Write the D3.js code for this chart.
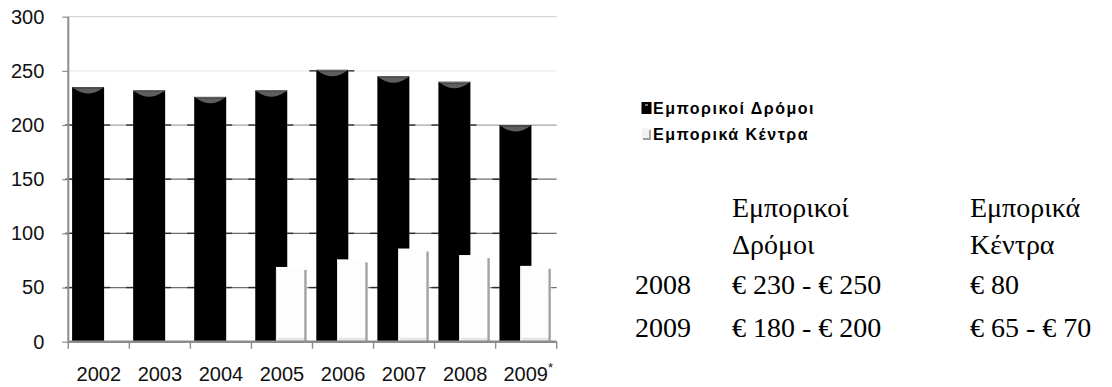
<!DOCTYPE html>
<html>
<head>
<meta charset="utf-8">
<script src="https://cdn.jsdelivr.net/npm/d3@7"></script>
<style>
  html, body { margin: 0; padding: 0; background: #fff; }
  svg { display: block; }
</style>
</head>
<body>
<svg id="chart" width="1112" height="387"></svg>
<script>
// Rents per year: shopping streets vs shopping centres
const years = ["2002", "2003", "2004", "2005", "2006", "2007", "2008", "2009"];
const streetValues = [235, 232, 226, 232, 251, 245, 240, 200];
const centreValues = [null, null, null, 69, 76, 86, 80, 70];
const yTicks = [0, 50, 100, 150, 200, 250, 300];
const seriesNames = ["Εμπορικοί Δρόμοι", "Εμπορικά Κέντρα"];

// Side table
const tableHeader = [["Εμπορικοί", "Δρόμοι"], ["Εμπορικά", "Κέντρα"]];
const tableYears = ["2008", "2009"];
const tableStreets = ["€ 230 - € 250", "€ 180 - € 200"];
const tableCentres = ["€ 80", "€ 65 - € 70"];

const svg = d3.select("#chart");
const plot = { left: 68.3, right: 556.7, top: 16.7, bottom: 341.7 };

const x = d3.scaleBand().domain(years).range([plot.left, plot.right]).padding(0);
const y = d3.scaleLinear().domain([0, 300]).range([plot.bottom, plot.top]);

const bw = x.bandwidth();
const blackOff = 3.8, blackW = 32;
const whiteOff = 24.5, whiteW = 31;

// gridlines
const gridColor = d => d === 300 ? "#d6d6d6" : d === 250 ? "#ececec" : d === 200 ? "#a4a4a4" : "#6e6e6e";
const grid = svg.append("g");
grid.selectAll("line").data(yTicks.filter(d => d > 0)).join("line")
  .attr("x1", plot.left).attr("x2", plot.right)
  .attr("y1", d => y(d)).attr("y2", d => y(d))
  .attr("stroke", gridColor)
  .attr("stroke-width", 1.2);

// dark floor shadows on gridlines beside the street bars
const shade = svg.append("g");
years.forEach((yr, i) => {
  const x0 = x(yr) + blackOff, x1 = x0 + blackW;
  yTicks.filter(t => t > 0 && t < streetValues[i]).forEach(t => {
    shade.append("line").attr("x1", x0 - 7).attr("x2", x0).attr("y1", y(t)).attr("y2", y(t))
      .attr("stroke", "#2e2e2e").attr("stroke-width", 1.4);
    shade.append("line").attr("x1", x1).attr("x2", x1 + 6).attr("y1", y(t)).attr("y2", y(t))
      .attr("stroke", "#2e2e2e").attr("stroke-width", 1.4);
  });
});

// street bars (black cylinders)
const streets = svg.append("g");
streets.selectAll("rect").data(years).join("rect")
  .attr("x", d => x(d) + blackOff)
  .attr("y", (d, i) => y(streetValues[i]))
  .attr("width", blackW)
  .attr("height", (d, i) => plot.bottom - y(streetValues[i]))
  .attr("fill", "#000");
streets.selectAll("path.cap").data(years).join("path")
  .attr("class", "cap")
  .attr("d", (d, i) => {
    const x0 = x(d) + blackOff + 2, x1 = x(d) + blackOff + blackW - 2, t = y(streetValues[i]) + 1.5;
    return `M${x0},${t} L${x1},${t} Q${(x0 + x1) / 2},${t + 10} ${x0},${t} Z`;
  })
  .attr("fill", "#5e5e5e");
streets.selectAll("line.rim").data(years).join("line")
  .attr("class", "rim")
  .attr("x1", d => x(d) + blackOff + 1).attr("x2", d => x(d) + blackOff + blackW - 1)
  .attr("y1", (d, i) => y(streetValues[i]) + 0.8).attr("y2", (d, i) => y(streetValues[i]) + 0.8)
  .attr("stroke", "#8a8a8a").attr("stroke-width", 0.8);

// centre bars (white cylinders in front)
const centreData = years.map((d, i) => ({ year: d, v: centreValues[i] })).filter(d => d.v !== null);
const centres = svg.append("g");
centres.selectAll("rect").data(centreData).join("rect")
  .attr("x", d => x(d.year) + whiteOff)
  .attr("y", d => y(d.v))
  .attr("width", whiteW)
  .attr("height", d => plot.bottom - y(d.v))
  .attr("fill", "#fdfdfd");
centres.selectAll("rect.floor").data(centreData).join("rect")
  .attr("class", "floor")
  .attr("x", d => x(d.year) + whiteOff + 2)
  .attr("y", plot.bottom - 4)
  .attr("width", whiteW - 4)
  .attr("height", 3)
  .attr("fill", "#e6e6e6");
centres.selectAll("line.left").data(centreData).join("line")
  .attr("class", "left")
  .attr("x1", d => x(d.year) + whiteOff + 0.5).attr("x2", d => x(d.year) + whiteOff + 0.5)
  .attr("y1", d => y(d.v) + 2).attr("y2", plot.bottom)
  .attr("stroke", "#e2e2e2").attr("stroke-width", 1);
centres.selectAll("line.edge").data(centreData).join("line")
  .attr("class", "edge")
  .attr("x1", d => x(d.year) + whiteOff + whiteW - 1.5).attr("x2", d => x(d.year) + whiteOff + whiteW - 1.5)
  .attr("y1", d => y(d.v) + 3).attr("y2", plot.bottom)
  .attr("stroke", "#a3a3a3").attr("stroke-width", 2.4);

// axes
const axisColor = "#8c8c8c";
const yAxis = svg.append("g").attr("transform", `translate(${plot.left},0)`)
  .call(d3.axisLeft(y).tickValues(yTicks).tickSize(6).tickPadding(18));
yAxis.select(".domain").attr("stroke", axisColor).attr("stroke-width", 2).attr("d", `M0,${plot.top}V${plot.bottom}`);
yAxis.selectAll(".tick line").attr("stroke", axisColor).attr("stroke-width", 1.2);
yAxis.selectAll(".tick text")
  .attr("font-family", "'Liberation Sans', Arial, sans-serif")
  .attr("font-size", 20).attr("fill", "#111");

const xAxis = svg.append("g").attr("transform", `translate(0,${plot.bottom})`);
xAxis.append("line").attr("x1", plot.left).attr("x2", plot.right)
  .attr("stroke", axisColor).attr("stroke-width", 2.4);
const edges = years.map(d => x(d)).concat([plot.right]);
xAxis.selectAll("line.tick").data(edges).join("line").attr("class", "tick")
  .attr("x1", d => d).attr("x2", d => d).attr("y1", 0).attr("y2", 7)
  .attr("stroke", axisColor).attr("stroke-width", 1.4);
const xl = xAxis.selectAll("text").data(years).join("text")
  .attr("x", d => x(d) + bw / 2 + (d === "2009" ? 2 : 0))
  .attr("y", 39)
  .attr("text-anchor", "middle")
  .attr("font-family", "'Liberation Sans', Arial, sans-serif")
  .attr("font-size", 20).attr("fill", "#111");
xl.append("tspan").text(d => d);
xl.filter(d => d === "2009").append("tspan")
  .attr("dy", -9).attr("font-size", 13).text("*");

// legend
const legend = svg.append("g").attr("transform", "translate(642,0)");
const lg = legend.selectAll("g").data(seriesNames).join("g")
  .attr("transform", (d, i) => `translate(0,${108 + i * 26})`);
lg.append("rect").attr("x", 0).attr("y", -5.5).attr("width", 9).attr("height", 11)
  .attr("fill", (d, i) => i === 0 ? "#000" : "#f2f2f2")
  .attr("stroke", (d, i) => i === 0 ? "#000" : "none");
lg.filter((d, i) => i === 0).append("rect")
  .attr("x", 3).attr("y", -4).attr("width", 3).attr("height", 2).attr("fill", "#777");
lg.filter((d, i) => i === 1).append("path")
  .attr("d", "M1,5 H8 V-4").attr("fill", "none").attr("stroke", "#9c9c9c").attr("stroke-width", 1.8);
lg.append("text").attr("x", 11).attr("y", 6)
  .attr("font-family", "'Liberation Sans', Arial, sans-serif")
  .attr("font-size", 16).attr("font-weight", "bold").attr("letter-spacing", 1.5)
  .attr("fill", "#000")
  .text(d => d);

// side table
const table = svg.append("g")
  .attr("font-family", "'Liberation Serif', 'Times New Roman', serif")
  .attr("font-size", 28).attr("fill", "#000");
const colX = [635, 732, 970];
const headY = [217, 254];
tableHeader.forEach((lines, c) => {
  lines.forEach((t, r) => {
    table.append("text").attr("x", colX[c + 1]).attr("y", headY[r]).text(t);
  });
});
const rowY = [294, 337];
tableYears.forEach((yr, r) => {
  table.append("text").attr("x", colX[0]).attr("y", rowY[r]).text(yr);
  table.append("text").attr("x", colX[1]).attr("y", rowY[r]).text(tableStreets[r]);
  table.append("text").attr("x", colX[2]).attr("y", rowY[r]).text(tableCentres[r]);
});
</script>
</body>
</html>
